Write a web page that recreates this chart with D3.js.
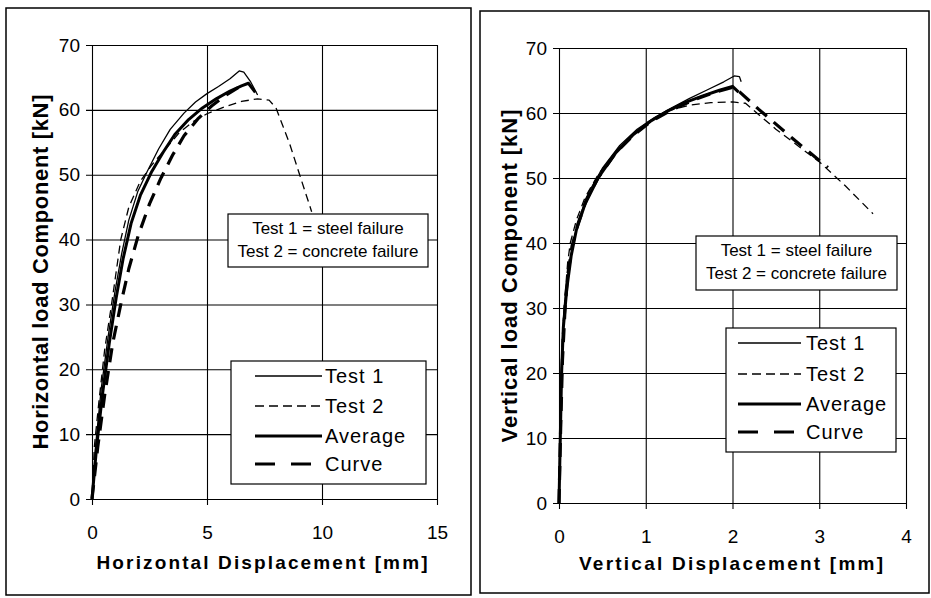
<!DOCTYPE html>
<html>
<head>
<meta charset="utf-8">
<script src="https://cdn.jsdelivr.net/npm/d3@7"></script>
<style>
  body { margin: 0; background: #fff; }
  svg { display: block; }
  text { font-family: Arial, "Liberation Sans", sans-serif; fill: #000; }
</style>
</head>
<body>
<svg width="931" height="598"></svg>
<script>
// ---- data ----
// horizontal displacement [mm] vs horizontal load [kN]
var hTest1 = [[0,0],[0.15,8],[0.4,17],[0.7,25],[1.0,32],[1.3,38],[1.6,43],[2.0,47.5],[2.4,50.5],[2.9,54],[3.4,57],[4.0,59.5],[4.5,61.2],[5.0,62.5],[5.5,63.6],[6.0,64.8],[6.4,66],[6.6,65.8],[6.9,64.3],[7.2,62.3]];
var hTest2 = [[0,0],[0.1,8],[0.3,15],[0.55,23],[0.85,30],[1.05,35],[1.25,40],[1.6,45],[2.1,49],[2.6,51.5],[3.2,54],[3.8,56.5],[4.4,58.2],[5.0,59.4],[5.8,60.5],[6.5,61.3],[7.2,61.7],[7.7,61.5],[8.0,60.3],[8.3,57.5],[8.6,54.7],[9.0,50.3],[9.55,44.3]];
var hAverage = [[0,0],[0.2,8],[0.45,16],[0.75,24],[1.05,31],[1.35,37],[1.7,42.5],[2.1,46.8],[2.6,50.5],[3.1,53.5],[3.6,56.2],[4.2,58.5],[4.8,60.3],[5.4,61.7],[6.0,62.9],[6.5,63.7],[6.8,64.1],[7.1,62.7]];
var hCurve = [[0,0],[0.25,8],[0.55,16],[0.9,24],[1.25,30],[1.6,35.5],[2.0,40.5],[2.5,45.5],[3.0,49.5],[3.5,53],[4.0,56],[4.6,58.6],[5.2,60.6],[5.8,62.2],[6.3,63.3],[6.6,63.9]];

// vertical displacement [mm] vs vertical load [kN]
var vTest1 = [[0,0],[0.01,8],[0.02,15],[0.03,22],[0.05,28],[0.08,33],[0.12,37],[0.18,41],[0.25,44.5],[0.35,48],[0.5,51.5],[0.7,55],[0.9,57.5],[1.1,59.3],[1.3,60.8],[1.5,62.2],[1.7,63.5],[1.9,64.8],[2.02,65.7],[2.08,65.6],[2.1,64.8]];
var vTest2 = [[0,0],[0.01,10],[0.02,18],[0.04,26],[0.07,32],[0.1,37],[0.13,40],[0.2,43.5],[0.3,47],[0.45,50.5],[0.65,54],[0.85,56.8],[1.05,58.8],[1.25,60.3],[1.5,61.2],[1.75,61.6],[2.0,61.7],[2.15,61.5],[2.5,57.5],[3.0,52.5],[3.3,48.8],[3.62,44.5]];
var vAverage = [[0,0],[0.015,10],[0.03,20],[0.05,27],[0.09,33],[0.14,38],[0.2,42],[0.3,46],[0.45,50],[0.65,53.8],[0.85,56.6],[1.05,58.7],[1.25,60.3],[1.45,61.6],[1.65,62.6],[1.85,63.5],[2.0,64.1],[2.07,63.2]];
var vCurve = [[0,0],[0.02,12],[0.04,22],[0.07,30],[0.1,35],[0.15,39.5],[0.22,43],[0.32,46.8],[0.45,50],[0.65,53.8],[0.85,56.5],[1.05,58.6],[1.3,60.5],[1.55,62],[1.8,63.2],[2.02,64],[2.3,60.6],[2.7,56],[3.1,51.6]];

var yTicks = [0, 10, 20, 30, 40, 50, 60, 70];
var hTicks = [0, 5, 10, 15];
var vTicks = [0, 1, 2, 3, 4];
var seriesNames = ["Test 1", "Test 2", "Average", "Curve"];
var noteLines = ["Test 1 = steel failure", "Test 2 = concrete failure"];

// line look per series
var styles = [
  { w: 1.3, dash: null,   legendDash: null },
  { w: 1.3, dash: "8,5",  legendDash: "9,5" },
  { w: 3,   dash: null,   legendDash: null },
  { w: 3.2, dash: "14,9", legendDash: "20,16" }
];

var svg = d3.select("svg");
var fmt = d3.format("d");

function drawPanel(p) {
  var g = svg.append("g");

  // outer frame
  g.append("rect")
    .attr("x", p.frame[0]).attr("y", p.frame[1])
    .attr("width", p.frame[2]).attr("height", p.frame[3])
    .attr("fill", "none").attr("stroke", "#000").attr("stroke-width", 1.5);

  var x = d3.scaleLinear().domain([0, p.xTicks[p.xTicks.length - 1]]).range([p.x0, p.x1]);
  var y = d3.scaleLinear().domain([0, 70]).range([p.y0, p.y1]);
  var w = p.x1 - p.x0, h = p.y0 - p.y1;

  // horizontal grid + y labels
  var ya = g.append("g")
    .attr("transform", "translate(" + (p.x0 - 6) + ",0)")
    .call(d3.axisLeft(y).tickValues(yTicks).tickFormat(fmt)
      .tickSizeInner(-(w + 6)).tickSizeOuter(0).tickPadding(6));
  ya.select(".domain").remove();
  ya.selectAll("line").attr("stroke", "#000").attr("stroke-width", 1.1);
  ya.selectAll("text").style("font-size", "19px").attr("fill", "#000");

  // vertical grid + x labels
  var xa = g.append("g")
    .attr("transform", "translate(0," + (p.y0 + 6) + ")")
    .call(d3.axisBottom(x).tickValues(p.xTicks).tickFormat(fmt)
      .tickSizeInner(-(h + 6)).tickSizeOuter(0).tickPadding(21));
  xa.select(".domain").remove();
  xa.selectAll("line").attr("stroke", "#000").attr("stroke-width", 1.1);
  xa.selectAll("text").style("font-size", "19px").attr("fill", "#000");

  // axis titles
  g.append("text")
    .attr("x", p.xTitle[0]).attr("y", p.xTitle[1])
    .attr("text-anchor", "middle")
    .attr("textLength", p.xTitle[2]).attr("lengthAdjust", "spacing")
    .style("font-size", "19px").style("font-weight", "bold")
    .text(p.xLabel);
  g.append("text")
    .attr("transform", "translate(" + p.yTitle[0] + "," + p.yTitle[1] + ") rotate(-90)")
    .attr("text-anchor", "middle").attr("dy", "0.35em")
    .attr("textLength", p.yTitle[2]).attr("lengthAdjust", "spacing")
    .style("font-size", "22px").style("font-weight", "bold")
    .text(p.yLabel);

  // series
  var line = d3.line().x(function(d) { return x(d[0]); }).y(function(d) { return y(d[1]); });
  p.series.forEach(function(s, i) {
    g.append("path")
      .attr("d", line(s))
      .attr("fill", "none").attr("stroke", "#000")
      .attr("stroke-width", styles[i].w)
      .attr("stroke-dasharray", styles[i].dash)
      .attr("stroke-linejoin", "round");
  });

  // failure note
  var n = p.note;
  g.append("rect")
    .attr("x", n[0]).attr("y", n[1]).attr("width", n[2]).attr("height", n[3])
    .attr("fill", "#fff").attr("stroke", "#000").attr("stroke-width", 1.2);
  noteLines.forEach(function(t, i) {
    g.append("text")
      .attr("x", n[0] + n[2] / 2).attr("y", n[1] + 20 + i * 23)
      .attr("text-anchor", "middle")
      .style("font-size", "17px")
      .text(t);
  });

  // legend
  var L = p.legend;
  g.append("rect")
    .attr("x", L.box[0]).attr("y", L.box[1]).attr("width", L.box[2]).attr("height", L.box[3])
    .attr("fill", "#fff").attr("stroke", "#000").attr("stroke-width", 1.2);
  seriesNames.forEach(function(name, i) {
    var cy = L.rows[i];
    g.append("line")
      .attr("x1", L.sample[0]).attr("x2", L.sample[1])
      .attr("y1", cy).attr("y2", cy)
      .attr("stroke", "#000").attr("stroke-width", styles[i].w)
      .attr("stroke-dasharray", styles[i].legendDash);
    g.append("text")
      .attr("x", L.textX).attr("y", cy).attr("dy", "0.36em")
      .style("font-size", "20px").style("letter-spacing", "1px")
      .text(name);
  });
}

drawPanel({
  frame: [6, 8, 465, 587],
  x0: 92, x1: 437, y0: 499, y1: 45,
  xTicks: hTicks,
  xLabel: "Horizontal Displacement [mm]",
  yLabel: "Horizontal load Component [kN]",
  xTitle: [262, 569, 331],
  yTitle: [40, 272, 355],
  series: [hTest1, hTest2, hAverage, hCurve],
  note: [228, 214, 200, 53],
  legend: { box: [231, 361, 195, 123], rows: [376, 406, 436, 464], sample: [255, 322], textX: 325 }
});

drawPanel({
  frame: [480, 11, 449, 582],
  x0: 559, x1: 906, y0: 503, y1: 48,
  xTicks: vTicks,
  xLabel: "Vertical Displacement [mm]",
  yLabel: "Vertical load Component [kN]",
  xTitle: [731, 570, 304],
  yTitle: [509, 276, 333],
  series: [vTest1, vTest2, vAverage, vCurve],
  note: [696, 236, 201, 54],
  legend: { box: [726, 328, 170, 124], rows: [343, 374, 404, 432], sample: [738, 801], textX: 806 }
});
</script>
</body>
</html>
